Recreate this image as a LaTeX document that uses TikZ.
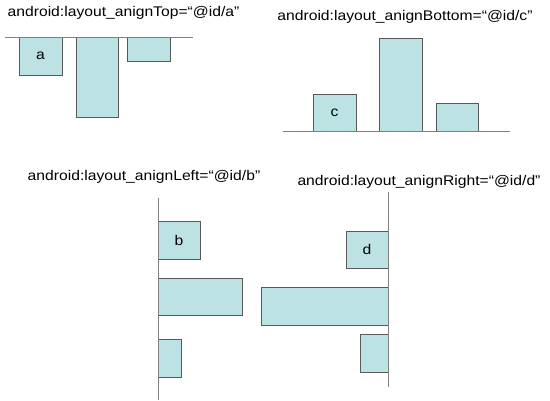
\documentclass[tikz,border=0pt]{standalone}
\usepackage{fontspec}
\setmainfont{Liberation Sans}[FakeStretch=1.12]
\begin{document}
\begin{tikzpicture}[x=1pt,y=-1pt,
  bar/.style={draw=black!65, fill=barfill, line width=0.8pt, inner sep=0pt, outer sep=0pt, anchor=north west, font=\fontsize{14}{16}\selectfont},
  axis/.style={draw=black!50, line width=0.9pt},
  title/.style={inner sep=0pt, font=\fontsize{14}{16}\selectfont}]
\definecolor{barfill}{HTML}{BDE2E4}
\useasboundingbox (0,0) rectangle (550,401);
% titles
\node[title] (t1) at (123.5,13) {android:layout\_anignTop=“@id/a”};
\node[title] (t2) at (405,17) {android:layout\_anignBottom=“@id/c”};
\node[title] (t3) at (144,177) {android:layout\_anignLeft=“@id/b”};
\node[title] (t4) at (419,182) {android:layout\_anignRight=“@id/d”};
% top alignment
\coordinate (ta1) at (5,37.3);
\coordinate (ta2) at (193,37.3);
\node[bar, minimum width=43pt, minimum height=38pt] (a) at (19,37.3) {a};
\node[bar, minimum width=42pt, minimum height=80pt] (a2) at (76,37.3) {};
\node[bar, minimum width=43pt, minimum height=24pt] (a3) at (127,37.3) {};
\draw[axis] (ta1) -- (ta2);
% bottom alignment
\coordinate (bc1) at (283,131.7);
\coordinate (bc2) at (510,131.7);
\node[bar, minimum width=43pt, minimum height=37.7pt] (c) at (313,94) {c};
\node[bar, minimum width=43pt, minimum height=93.7pt] (c2) at (379,38) {};
\node[bar, minimum width=42pt, minimum height=28.7pt] (c3) at (436,103) {};
\draw[axis] (bc1) -- (bc2);
% left alignment
\coordinate (lb1) at (158,198);
\coordinate (lb2) at (158,400);
\node[bar, minimum width=42pt, minimum height=38pt] (b) at (158,221) {b};
\node[bar, minimum width=84pt, minimum height=37pt] (b2) at (158,278) {};
\node[bar, minimum width=23pt, minimum height=38pt] (b3) at (158,339) {};
\draw[axis] (lb1) -- (lb2);
% right alignment
\coordinate (rd1) at (388,192);
\coordinate (rd2) at (388,387);
\node[bar, minimum width=42pt, minimum height=37pt] (d) at (346,231) {d};
\node[bar, minimum width=127pt, minimum height=38pt] (d2) at (261,287) {};
\node[bar, minimum width=28pt, minimum height=38pt] (d3) at (360,334) {};
\draw[axis] (rd1) -- (rd2);
\end{tikzpicture}
\end{document}
